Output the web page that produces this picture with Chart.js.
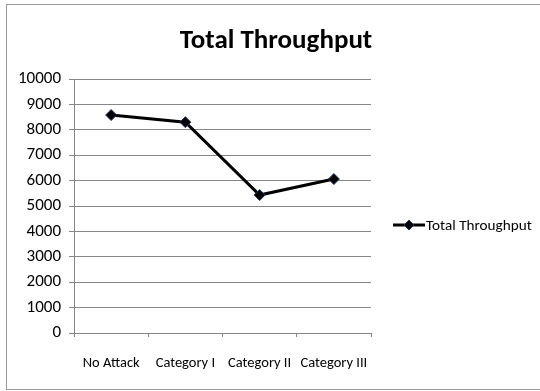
<!DOCTYPE html>
<html>
<head>
<meta charset="utf-8">
<script src="https://cdn.jsdelivr.net/npm/chart.js@4/dist/chart.umd.min.js"></script>
<style>
  html, body { margin: 0; padding: 0; background: #fff; overflow: hidden; }
  #frame {
    position: absolute; left: 6px; top: 4px; width: 540px; height: 386px;
    border: 1px solid #9a9a9a; border-right: none; box-sizing: border-box;
  }
  #wrap { position: absolute; left: 6px; top: 4px; width: 540px; height: 387px; }
</style>
</head>
<body>
<div id="frame"></div>
<div id="wrap"><canvas id="grafico"></canvas></div>
<script>
const categorias = ['No Attack', 'Category I', 'Category II', 'Category III'];
const totalThroughput = [8580, 8300, 5430, 6060];
const serieNome = 'Total Throughput';
const fonte = 'Carlito, Lato, sans-serif';

// título centrado na largura toda e legenda à direita (linha + losango, estilo Excel)
const tituloLegenda = {
  id: 'tituloLegenda',
  afterDraw(chart) {
    const ctx = chart.ctx;
    const ds = chart.data.datasets[0];
    ctx.save();
    ctx.fillStyle = '#000';
    ctx.font = 'bold 27px ' + fonte;
    ctx.textAlign = 'center';
    ctx.textBaseline = 'middle';
    ctx.fillText(serieNome, chart.width / 2, 37);

    const y = 221;
    ctx.strokeStyle = ds.borderColor;
    ctx.lineWidth = 3;
    ctx.beginPath();
    ctx.moveTo(387, y);
    ctx.lineTo(419, y);
    ctx.stroke();
    ctx.fillStyle = ds.pointBackgroundColor;
    ctx.strokeStyle = ds.pointBorderColor;
    ctx.lineWidth = 1;
    ctx.beginPath();
    ctx.moveTo(403, y - 5);
    ctx.lineTo(408, y);
    ctx.lineTo(403, y + 5);
    ctx.lineTo(398, y);
    ctx.closePath();
    ctx.fill();
    ctx.stroke();
    ctx.fillStyle = '#000';
    ctx.font = '15.2px ' + fonte;
    ctx.textAlign = 'left';
    ctx.fillText(ds.label, 420, y + 1);
    ctx.restore();
  }
};

const ctx = document.getElementById('grafico').getContext('2d');

const grafico = new Chart(ctx, {
  type: 'line',
  data: {
    labels: categorias,
    datasets: [
      {
        label: serieNome,
        data: totalThroughput,
        borderColor: '#000',
        borderWidth: 3,
        pointStyle: 'rectRot',
        pointRadius: 5.5,
        pointBackgroundColor: '#000',
        pointBorderColor: '#1f3864',
        pointBorderWidth: 1,
        tension: 0,
      },
    ],
  },
  options: {
    responsive: true,
    maintainAspectRatio: false,
    animation: false,
    layout: {
      padding: { top: 75, right: 175, bottom: 0, left: 0 },
    },
    scales: {
      x: {
        offset: true,
        grid: {
          offset: true,
          drawOnChartArea: false,
          drawTicks: true,
          tickLength: 4,
          color: '#868686',
        },
        border: { color: '#868686' },
        ticks: {
          color: '#000',
          padding: 18,
          maxRotation: 0,
          autoSkip: false,
          font: { family: fonte, size: 14.5 },
        },
        afterFit(scale) { scale.height = 58; },
      },
      y: {
        min: 0,
        max: 10000,
        ticks: {
          stepSize: 1000,
          color: '#000',
          padding: 8,
          font: { family: fonte, size: 17 },
          callback: (v) => String(v),
        },
        grid: {
          color: '#868686',
          tickLength: 5,
        },
        border: { color: '#868686' },
        afterFit(scale) { scale.width = 68; },
      },
    },
    plugins: {
      legend: { display: false },
      tooltip: { enabled: false },
      title: { display: false },
    },
  },
  plugins: [tituloLegenda],
});
</script>
</body>
</html>
